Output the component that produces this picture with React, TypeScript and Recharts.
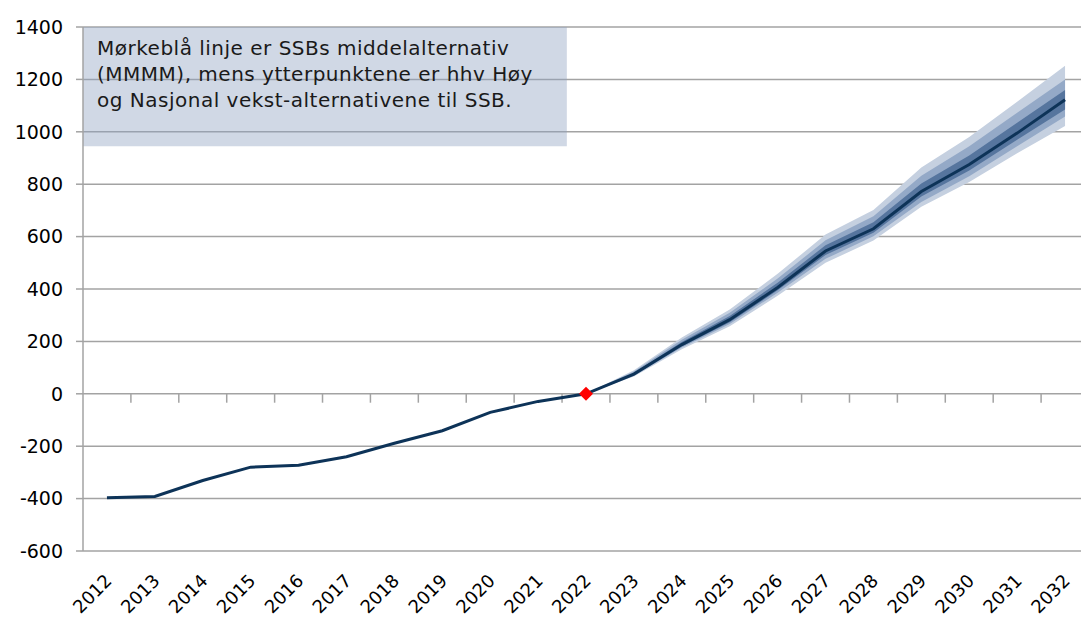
import {
  ComposedChart,
  Area,
  Line,
  XAxis,
  YAxis,
  CartesianGrid,
  ReferenceArea,
  ReferenceLine,
  ReferenceDot,
  Label,
} from "recharts";

// årstall og SSBs middelalternativ (MMMM)
const years = [
  2012, 2013, 2014, 2015, 2016, 2017, 2018, 2019, 2020, 2021, 2022,
  2023, 2024, 2025, 2026, 2027, 2028, 2029, 2030, 2031, 2032,
];
const middel = [
  -397, -392, -331, -280, -273, -240, -189, -141, -71, -29, 0,
  75, 188, 283, 406, 545, 630, 772, 875, 995, 1122,
];

// vifte fra 2022 og utover
const fanYears = [2022, 2023, 2024, 2025, 2026, 2027, 2028, 2029, 2030, 2031, 2032];
const outerHi = [0, 90, 215, 322, 458, 608, 702, 864, 980, 1115, 1252];
const outerLo = [0, 66, 170, 258, 374, 500, 585, 714, 808, 918, 1022];
const midHi = [0, 85, 206, 309, 440, 586, 678, 832, 945, 1073, 1200];
const midLo = [0, 69, 177, 266, 386, 515, 601, 732, 830, 945, 1058];
const innerHi = [0, 80, 198, 297, 424, 567, 655, 803, 910, 1035, 1160];
const innerLo = [0, 72, 181, 273, 395, 530, 615, 753, 852, 970, 1085];

const yTicks = [-600, -400, -200, 0, 200, 400, 600, 800, 1000, 1200, 1400];
const boxLines = [
  "Mørkeblå linje er SSBs middelalternativ",
  "(MMMM), mens ytterpunktene er hhv Høy",
  "og Nasjonal vekst-alternativene til SSB.",
];

const FONT = "'DejaVu Sans', sans-serif";
const GRID = "#a3a3a3";

const data = years.map((year, i) => {
  const j = fanYears.indexOf(year);
  return {
    year,
    middel: middel[i],
    outer: j >= 0 ? [outerLo[j], outerHi[j]] : null,
    mid: j >= 0 ? [midLo[j], midHi[j]] : null,
    inner: j >= 0 ? [innerLo[j], innerHi[j]] : null,
  };
});

// skillelinjer mellom kategoriene, hengende under 0-linja
const boundaries = years.map((y) => y + 0.5);
const tickDrop = 34;

function YearTick(props: any) {
  const { x, y, payload } = props;
  return (
    <g transform={`translate(${x + 6},${y + 23})`}>
      <text
        x={0}
        y={0}
        textAnchor="end"
        transform="rotate(-45)"
        fontSize={18}
        fontFamily={FONT}
        fill="#000"
      >
        {payload.value}
      </text>
    </g>
  );
}

function BoxText(props: any) {
  const { viewBox } = props;
  return (
    <text
      x={viewBox.x + 14}
      y={viewBox.y + 28}
      fontSize={20}
      letterSpacing={0.5}
      fontFamily={FONT}
      fill="#1a1a1a"
    >
      {boxLines.map((l, i) => (
        <tspan key={i} x={viewBox.x + 14} dy={i === 0 ? 0 : 26}>
          {l}
        </tspan>
      ))}
    </text>
  );
}

function Diamond(props: any) {
  const { cx, cy } = props;
  const r = 7;
  return (
    <polygon
      points={`${cx},${cy - r} ${cx + r},${cy} ${cx},${cy + r} ${cx - r},${cy}`}
      fill="#ff0000"
    />
  );
}

export default function App() {
  return (
    <div
      style={{
        position: "fixed",
        left: 0,
        top: 0,
        width: 1081,
        height: 617,
        overflow: "hidden",
        background: "#fff",
      }}
    >
      <ComposedChart
        width={1090}
        height={617}
        data={data}
        margin={{ top: 27, right: 1, bottom: 0, left: 0 }}
      >
        <CartesianGrid vertical={false} stroke={GRID} strokeWidth={1.5} />
        <XAxis
          dataKey="year"
          type="number"
          domain={[2011.5, 2032.5]}
          ticks={years}
          interval={0}
          height={66}
          axisLine={false}
          tickLine={false}
          tick={<YearTick />}
        />
        <YAxis
          domain={[-600, 1400]}
          ticks={yTicks}
          interval={0}
          width={83}
          axisLine={{ stroke: GRID, strokeWidth: 1.5 }}
          tickLine={{ stroke: GRID, strokeWidth: 1.5 }}
          tickSize={7}
          tickMargin={13}
          tick={{ fontSize: 19, fill: "#000", fontFamily: FONT }}
        />
        <ReferenceArea
          x1={2011.5}
          x2={2021.6}
          y1={945}
          y2={1400}
          fill="#8fa3c2"
          fillOpacity={0.42}
          stroke="none"
        >
          <Label content={BoxText} />
        </ReferenceArea>
        {boundaries.map((b) => (
          <ReferenceLine
            key={b}
            segment={[
              { x: b, y: 0 },
              { x: b, y: -tickDrop },
            ]}
            stroke={GRID}
            strokeWidth={1.5}
          />
        ))}
        <Area
          dataKey="outer"
          type="linear"
          stroke="none"
          fill="#c5d0e0"
          fillOpacity={1}
          isAnimationActive={false}
        />
        <Area
          dataKey="mid"
          type="linear"
          stroke="none"
          fill="#94a9c7"
          fillOpacity={1}
          isAnimationActive={false}
        />
        <Area
          dataKey="inner"
          type="linear"
          stroke="none"
          fill="#56759e"
          fillOpacity={1}
          isAnimationActive={false}
        />
        <Line
          dataKey="middel"
          type="linear"
          stroke="#0d3358"
          strokeWidth={3}
          dot={false}
          isAnimationActive={false}
        />
        <ReferenceDot x={years[10]} y={middel[10]} shape={Diamond} />
      </ComposedChart>
    </div>
  );
}
